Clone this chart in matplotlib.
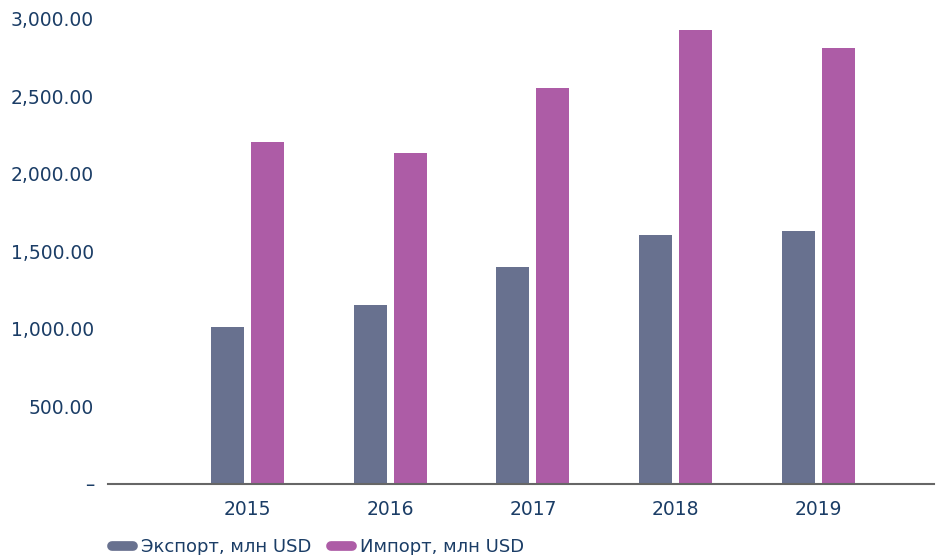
import matplotlib
matplotlib.use("Agg")
import matplotlib.pyplot as plt
from matplotlib.lines import Line2D
from matplotlib.ticker import FuncFormatter
import numpy as np

years = ["2015", "2016", "2017", "2018", "2019"]
export_vals = [1011, 1153, 1399, 1605, 1631]
import_vals = [2206, 2135, 2555, 2930, 2813]
series_names = ["Экспорт, млн USD", "Импорт, млн USD"]

EXPORT_C = "#68718F"
IMPORT_C = "#AD5CA6"
TEXT_C = "#1B3D66"

plt.rcParams['font.family'] = ['DejaVu Sans']

fig = plt.figure(figsize=(9.36, 5.55), dpi=100)
ax = fig.add_axes([108/936, (555-483.5)/555, (934-108)/936, (483.5-19)/555])

x = np.arange(len(years))
w = 0.231
off = 0.140
ax.bar(x - off, export_vals, width=w, color=EXPORT_C, zorder=2)
ax.bar(x + off, import_vals, width=w, color=IMPORT_C, zorder=2)

ax.set_xlim(-0.977, 4.81)
ax.set_ylim(0, 3000)
ax.set_yticks([0, 500, 1000, 1500, 2000, 2500, 3000])
ax.yaxis.set_major_formatter(FuncFormatter(lambda v, p: "–" if v == 0 else f"{v:,.2f}"))
ax.set_xticks(x)
ax.set_xticklabels(years)

for s in ["top", "right", "left"]:
    ax.spines[s].set_visible(False)
ax.spines["bottom"].set_color("#666666")
ax.spines["bottom"].set_linewidth(1.5)
ax.spines["bottom"].set_zorder(3)

ax.tick_params(axis="y", length=0, pad=10, labelsize=13.5, labelcolor=TEXT_C)
ax.tick_params(axis="x", length=0, pad=12, labelsize=13.5, labelcolor=TEXT_C)

handles = [Line2D([0], [0], color=EXPORT_C, lw=7, solid_capstyle="round"),
           Line2D([0], [0], color=IMPORT_C, lw=7, solid_capstyle="round")]
leg = fig.legend(handles, series_names, loc="center left",
                 bbox_to_anchor=(112/936, (555-547)/555), ncol=2, frameon=False,
                 fontsize=13, handlelength=1.15, handletextpad=0.45,
                 columnspacing=1.1, borderpad=0, borderaxespad=0)
for t in leg.get_texts():
    t.set_color(TEXT_C)

fig.savefig("out.png", dpi=100)
